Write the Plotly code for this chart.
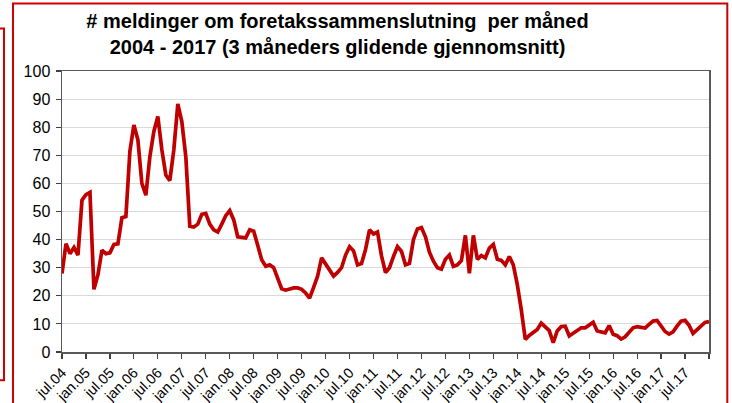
import plotly.graph_objects as go

# ---- data -------------------------------------------------------------
month_names = ["jan", "feb", "mar", "apr", "mai", "jun",
               "jul", "aug", "sep", "okt", "nov", "des"]
start_year, start_month = 2004, 7   # first point: jul.04

values = [
    27.9, 38.5, 35.0, 37.2, 34.5, 54.0, 56.0, 56.8, 22.3, 27.5,
    36.2, 35.0, 35.3, 38.3, 38.5, 47.8, 48.2, 71.5, 80.8, 75.5,
    60.0, 55.8, 69.5, 78.5, 83.8, 72.0, 63.0, 61.0, 72.0, 88.3,
    82.0, 69.5, 44.8, 44.5, 45.5, 49.0, 49.3, 45.5, 43.5, 42.7,
    45.5, 48.5, 50.3, 47.0, 41.0, 40.8, 40.6, 43.5, 43.0, 38.0,
    32.8, 30.5, 31.0, 30.0, 26.0, 22.5, 22.0, 22.5, 22.8, 22.8,
    22.3, 21.0, 19.2, 23.0, 27.0, 33.5, 31.5, 29.0, 27.0, 28.3,
    30.0, 34.5, 37.5, 36.0, 31.0, 31.5, 36.5, 43.5, 42.0, 42.7,
    34.2, 28.3, 30.0, 34.0, 37.5, 35.8, 31.0, 31.5, 40.0, 43.8,
    44.3, 41.0, 35.5, 32.3, 30.0, 29.5, 33.0, 34.5, 30.5, 31.0,
    32.5, 41.5, 28.0, 41.5, 33.0, 34.3, 33.5, 37.0, 38.3, 33.0,
    32.6, 31.0, 34.0, 31.0, 24.0, 15.0, 4.5, 5.9, 7.0, 8.0,
    10.3, 9.0, 7.6, 3.3, 7.5, 9.1, 9.2, 5.7, 6.8, 7.8,
    8.6, 8.6, 9.8, 10.6, 7.5, 7.0, 6.8, 9.4, 6.3, 5.8,
    4.6, 5.4, 7.0, 8.6, 9.0, 8.6, 8.5, 9.8, 11.0, 11.2,
    9.4, 7.3, 6.4, 7.2, 9.2, 11.0, 11.3, 9.5, 6.6, 7.8,
    9.2, 10.5, 10.8,
]

months = []
for k in range(len(values)):
    m = (start_month - 1 + k) % 12
    y = start_year + (start_month - 1 + k) // 12
    months.append(f"{month_names[m]}.{y % 100:02d}")

tick_labels = ["jul.04", "jan.05", "jul.05", "jan.06", "jul.06", "jan.07",
               "jul.07", "jan.08", "jul.08", "jan.09", "jul.09", "jan.10",
               "jul.10", "jan.11", "jul.11", "jan.12", "jul.12", "jan.13",
               "jul.13", "jan.14", "jul.14", "jan.15", "jul.15", "jan.16",
               "jul.16", "jan.17", "jul.17"]
tick_vals = tick_labels + ["jan.18"]
tick_text = tick_labels + [""]

title_lines = ["# meldinger om foretakssammenslutning  per måned",
               "2004 - 2017 (3 måneders glidende gjennomsnitt)"]

# ---- layout helpers (pixel -> paper) ----------------------------------
W, H = 732, 403
L, R, T, B = 62, 23.3, 70.5, 51.3
PW, PH = W - L - R, H - T - B


def px(xp):
    return (xp - L) / PW


def py(yp):
    return (H - B - yp) / PH


FONT = "Arial, Liberation Sans, sans-serif"

fig = go.Figure()
fig.add_trace(go.Scatter(
    x=months, y=values, mode="lines",
    line=dict(color="#C00000", width=3.7),
    hoverinfo="skip", showlegend=False,
))

fig.update_layout(
    width=W, height=H,
    margin=dict(l=L, r=R, t=T, b=B, autoexpand=False),
    paper_bgcolor="white", plot_bgcolor="white",
    font=dict(family=FONT, color="black"),
    title=dict(
        text="<br>".join(f"<b>{t}</b>" for t in title_lines),
        x=337.5 / W, xref="container", xanchor="center",
        y=1 - 28 / H, yref="container", yanchor="top",
        font=dict(size=20, family=FONT, color="black"),
    ),
    xaxis=dict(
        type="category", range=[0, len(values) - 1],
        tickmode="array", tickvals=tick_vals, ticktext=tick_text,
        tickangle=-45, tickfont=dict(size=14.5, family=FONT),
        ticks="outside", ticklen=5, tickwidth=1.2, tickcolor="#404040",
        showline=True, linecolor="#595959", linewidth=1.5, mirror=True,
        showgrid=False, zeroline=False, automargin=False,
    ),
    yaxis=dict(
        range=[0, 100], dtick=10, tick0=0,
        tickfont=dict(size=16, family=FONT),
        ticks="outside", ticklen=5, tickwidth=1.2, tickcolor="#404040",
        ticklabelstandoff=2,
        showline=True, linecolor="#595959", linewidth=1.5, mirror=True,
        showgrid=True, gridcolor="#d9d9d9", gridwidth=1,
        zeroline=False, automargin=False,
    ),
    shapes=[
        dict(type="rect", xref="paper", yref="paper",
             x0=px(13), x1=px(727), y0=py(430), y1=py(3),
             line=dict(color="#CC0000", width=2), layer="above"),
        dict(type="rect", xref="paper", yref="paper",
             x0=px(-20), x1=px(4), y0=py(380), y1=py(28),
             line=dict(color="#CC0000", width=2), layer="above"),
    ],
)

fig.write_html(
    "out.html",
    config={"displayModeBar": False, "staticPlot": True},
    post_script="document.body.style.margin='0';document.body.style.padding='0';",
)
